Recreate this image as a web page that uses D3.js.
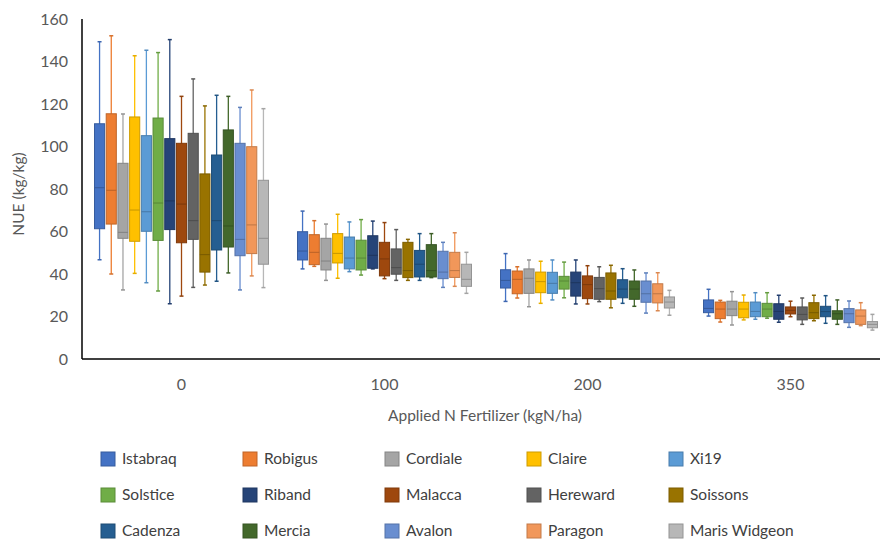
<!DOCTYPE html>
<html>
<head>
<meta charset="utf-8">
<script src="https://cdn.jsdelivr.net/npm/d3@7"></script>
<style>
  body { margin: 0; background: #fff; }
  svg { font-family: Lato, "Open Sans", sans-serif; }
</style>
</head>
<body>
<div id="chart"></div>
<script>
var rates = ['0', '100', '200', '350'];
var varieties = ['Istabraq', 'Robigus', 'Cordiale', 'Claire', 'Xi19',
  'Solstice', 'Riband', 'Malacca', 'Hereward', 'Soissons',
  'Cadenza', 'Mercia', 'Avalon', 'Paragon', 'Maris Widgeon'];
var colors = ['#4472C4', '#ED7D31', '#A5A5A5', '#FFC000', '#5B9BD5',
  '#70AD47', '#264478', '#9E480E', '#636363', '#997300',
  '#255E91', '#43682B', '#698ED0', '#F1975A', '#B7B7B7'];
var yTicks = [0, 20, 40, 60, 80, 100, 120, 140, 160];

// [min, q1, median, q3, max] for each variety
var nue0 = [
  [46.7, 61.3, 80.6, 110.7, 149.3], [40.0, 63.5, 79.4, 115.4, 152.1],
  [32.5, 56.8, 59.6, 92.1, 115.3], [40.3, 55.4, 70.1, 113.9, 142.7],
  [35.9, 60.1, 69.3, 105.1, 145.3], [32.0, 55.8, 73.4, 113.4, 144.2],
  [26.0, 60.9, 74.4, 103.7, 150.3], [29.6, 54.7, 72.9, 101.5, 123.6],
  [33.7, 56.3, 65.1, 106.2, 131.8], [34.8, 40.9, 49.1, 87.1, 119.1],
  [36.6, 51.3, 65.1, 96.0, 124.1], [40.5, 52.7, 62.6, 107.8, 123.6],
  [32.5, 48.6, 56.3, 101.5, 118.4], [39.1, 49.6, 63.1, 99.9, 126.6],
  [33.6, 44.6, 56.8, 84.1, 117.8]
];
var nue100 = [
  [42.4, 46.6, 50.8, 59.9, 69.6], [43.6, 44.4, 50.2, 58.5, 65.1],
  [37.0, 41.9, 46.1, 56.8, 63.5], [38.0, 45.2, 49.7, 59.0, 68.1],
  [41.1, 42.4, 47.5, 57.4, 64.5], [39.5, 41.9, 47.5, 55.9, 65.6],
  [42.4, 42.7, 48.8, 58.0, 64.9], [37.8, 39.1, 47.1, 54.9, 64.2],
  [37.0, 39.9, 43.0, 51.8, 60.9], [37.0, 38.3, 41.6, 54.9, 56.3],
  [37.0, 38.6, 44.6, 51.1, 59.0], [38.3, 38.6, 41.6, 53.8, 59.0],
  [33.7, 37.8, 40.9, 50.7, 54.9], [34.2, 38.4, 41.6, 50.2, 59.4],
  [30.9, 34.2, 37.5, 44.6, 50.2]
];
var nue200 = [
  [27.1, 33.4, 37.0, 42.0, 49.6], [28.7, 30.7, 37.5, 41.4, 43.4],
  [24.6, 30.9, 38.0, 42.4, 46.6], [26.2, 31.2, 36.4, 40.9, 46.0],
  [27.8, 30.9, 35.6, 40.8, 46.6], [28.8, 32.9, 36.7, 38.9, 45.6],
  [25.9, 29.6, 35.9, 40.9, 46.6], [25.9, 28.4, 35.0, 39.1, 43.9],
  [27.0, 28.1, 33.1, 38.4, 43.4], [24.1, 28.1, 32.0, 40.5, 44.1],
  [26.2, 28.8, 32.9, 37.3, 42.5], [24.8, 28.1, 32.9, 36.7, 41.9],
  [21.6, 26.7, 30.7, 36.7, 40.5], [22.7, 26.4, 30.7, 35.4, 40.6],
  [20.6, 24.0, 26.8, 29.2, 32.3]
];
var nue350 = [
  [20.2, 21.8, 23.8, 27.8, 32.8], [17.4, 19.0, 23.5, 26.8, 27.6],
  [16.0, 20.4, 23.5, 27.2, 31.7], [18.4, 19.4, 23.5, 26.7, 30.1],
  [18.7, 19.9, 22.4, 26.8, 31.2], [19.2, 19.9, 23.5, 26.2, 31.2],
  [17.3, 18.7, 22.4, 26.0, 30.0], [19.9, 21.2, 22.9, 24.5, 27.2],
  [16.3, 18.4, 21.0, 24.5, 28.7], [18.0, 19.0, 21.8, 26.5, 30.0],
  [16.8, 19.9, 22.3, 24.8, 29.8], [16.3, 18.7, 21.3, 22.7, 27.8],
  [14.9, 17.1, 21.3, 23.7, 27.3], [15.7, 16.3, 20.2, 23.1, 26.5],
  [13.6, 14.7, 16.3, 17.6, 21.0]
];
var nueByRate = [nue0, nue100, nue200, nue350];

var width = 880, height = 540;
var plotLeft = 82, plotTop = 19, plotBottom = 359;

var svg = d3.select('#chart').append('svg')
  .attr('width', width)
  .attr('height', height);

var x = d3.scaleBand()
  .domain(rates)
  .range([80, 892]);

var xInner = d3.scaleBand()
  .domain(varieties)
  .range([14, x.bandwidth() - 14])
  .paddingInner(0.05);

var y = d3.scaleLinear()
  .domain([0, 160])
  .range([plotBottom, plotTop]);

// y axis labels
svg.append('g')
  .selectAll('text')
  .data(yTicks)
  .enter()
  .append('text')
  .attr('x', 68)
  .attr('y', d => y(d))
  .attr('dy', '0.35em')
  .attr('text-anchor', 'end')
  .attr('font-size', 16)
  .attr('fill', '#595959')
  .text(d => d);

// boxes
var groups = svg.selectAll('g.rate')
  .data(rates)
  .enter()
  .append('g')
  .attr('class', 'rate')
  .attr('transform', d => 'translate(' + x(d) + ',0)');

groups.each(function(rate, ri) {
  var g = d3.select(this);
  var stats = nueByRate[ri];
  var boxes = g.selectAll('g.box')
    .data(varieties.map((v, i) => ({ name: v, color: colors[i], s: stats[i] })))
    .enter()
    .append('g')
    .attr('class', 'box')
    .attr('transform', d => 'translate(' + xInner(d.name) + ',0)');

  var bw = xInner.bandwidth();
  var cx = bw / 2;

  boxes.append('line')
    .attr('x1', cx).attr('x2', cx)
    .attr('y1', d => y(d.s[0])).attr('y2', d => y(d.s[4]))
    .attr('stroke', d => d.color)
    .attr('stroke-width', 1.3);

  boxes.selectAll('line.cap')
    .data(d => [{ v: d.s[0], c: d.color }, { v: d.s[4], c: d.color }])
    .enter()
    .append('line')
    .attr('class', 'cap')
    .attr('x1', cx - 2).attr('x2', cx + 2)
    .attr('y1', d => y(d.v)).attr('y2', d => y(d.v))
    .attr('stroke', d => d3.color(d.c).darker(0.3))
    .attr('stroke-width', 1.5);

  boxes.append('rect')
    .attr('x', 0.5)
    .attr('y', d => y(d.s[3]))
    .attr('width', bw - 1)
    .attr('height', d => y(d.s[1]) - y(d.s[3]))
    .attr('fill', d => d.color)
    .attr('stroke', d => d3.color(d.color).darker(0.6))
    .attr('stroke-width', 1);

  boxes.append('line')
    .attr('x1', 0.5).attr('x2', bw - 0.5)
    .attr('y1', d => y(d.s[2])).attr('y2', d => y(d.s[2]))
    .attr('stroke', d => d3.color(d.color).darker(0.7))
    .attr('stroke-width', 1);
});

// axis lines
svg.append('line')
  .attr('x1', plotLeft).attr('x2', 880)
  .attr('y1', plotBottom).attr('y2', plotBottom)
  .attr('stroke', '#000').attr('stroke-width', 1.5);
svg.append('line')
  .attr('x1', plotLeft).attr('x2', plotLeft)
  .attr('y1', plotTop).attr('y2', plotBottom)
  .attr('stroke', '#000').attr('stroke-width', 1.5);

// x category labels
svg.append('g')
  .selectAll('text')
  .data(rates)
  .enter()
  .append('text')
  .attr('x', d => x(d) + x.bandwidth() / 2)
  .attr('y', 390)
  .attr('text-anchor', 'middle')
  .attr('font-size', 16)
  .attr('fill', '#595959')
  .text(d => d);

svg.append('text')
  .attr('x', 485)
  .attr('y', 421)
  .attr('text-anchor', 'middle')
  .attr('font-size', 15.5)
  .attr('fill', '#595959')
  .text('Applied N Fertilizer (kgN/ha)');

svg.append('text')
  .attr('transform', 'translate(24,194) rotate(-90)')
  .attr('text-anchor', 'middle')
  .attr('font-size', 15.5)
  .attr('fill', '#595959')
  .text('NUE (kg/kg)');

// legend
var legend = svg.append('g')
  .selectAll('g')
  .data(varieties)
  .enter()
  .append('g')
  .attr('transform', (d, i) => 'translate(' + (101 + (i % 5) * 142) + ',' + (452 + Math.floor(i / 5) * 36) + ')');

legend.append('rect')
  .attr('width', 14).attr('height', 14)
  .attr('fill', (d, i) => colors[i])
  .attr('stroke', (d, i) => d3.color(colors[i]).darker(0.6));

legend.append('text')
  .attr('x', 21)
  .attr('y', 7)
  .attr('dy', '0.35em')
  .attr('font-size', 15.5)
  .attr('fill', '#404040')
  .text(d => d);
</script>
</body>
</html>
